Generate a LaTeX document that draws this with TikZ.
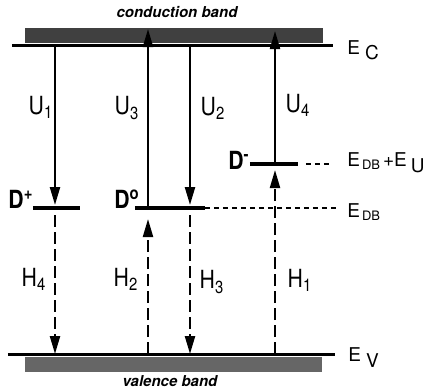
\documentclass[tikz,border=0pt]{standalone}
\usepackage{fontspec}
\setmainfont{TeX Gyre Heros}
\newfontfamily\narrowfont[FakeStretch=0.85]{TeX Gyre Heros}
\usetikzlibrary{arrows.meta}

\begin{document}
\begin{tikzpicture}[x=0.5pt, y=-0.5pt,
        band/.style={fill=black!75, draw=none},
        edge/.style={line width=1.5pt},
        level/.style={line width=1.7pt},
        guide/.style={line width=0.8pt, dash pattern=on 2.5pt off 2pt},
        trans/.style={line width=1.1pt, -{Triangle[length=9pt, width=5pt]}},
        hole/.style={trans, dash pattern=on 6pt off 2.5pt},
        lab/.style={font=\narrowfont\fontsize{12.5}{14}\selectfont, inner sep=0pt},
        dlab/.style={lab, font=\narrowfont\bfseries\fontsize{12.5}{14}\selectfont},
        elab/.style={font=\fontsize{9.5}{11}\selectfont, inner sep=0pt, anchor=west},
        blab/.style={font=\bfseries\itshape\fontsize{7.5}{9}\selectfont, inner sep=0pt}]

        \useasboundingbox (0,0) rectangle (446,388);

        % bands
        \fill[band] (25,28) rectangle (323,43);
        \fill[band, fill=black!60] (25,357) rectangle (322,372);
        \node (cb) [blab] at (177,12) {conduction band};
        \node (vb) [blab] at (170,381) {valence band};

        % band edges
        \coordinate (ecL) at (12,45);
        \coordinate (ecR) at (333,45);
        \coordinate (evL) at (8,354);
        \coordinate (evR) at (335,354);
        \draw [edge] (ecL) -- (ecR);
        \draw [edge] (evL) -- (evR);
        \node (ec) [elab] at (347,50) {E\hspace{2.5pt}\raisebox{-2.5pt}{C}};
        \node (ev) [elab] at (348,358) {E\hspace{2.5pt}\raisebox{-3pt}{V}};

        % transition columns
        \coordinate (c1) at (55,45);  \coordinate (v1) at (55,354);
        \coordinate (c2) at (148,45); \coordinate (v2) at (148,354);
        \coordinate (c3) at (190,45); \coordinate (v3) at (190,354);
        \coordinate (c4) at (275,45); \coordinate (v4) at (275,354);
        \coordinate (top2) at (148,29);
        \coordinate (top4) at (275,31);

        % defect levels
        \coordinate (dpL) at (33,208);  \coordinate (dpR) at (80,208);
        \coordinate (d0L) at (135,208); \coordinate (d0R) at (205,208);
        \coordinate (dmL) at (250,164); \coordinate (dmR) at (298,164);
        \coordinate (gdb) at (338,208);
        \coordinate (gmL) at (306,164); \coordinate (gmR) at (330,164);
        \draw [level] (dpL) -- (dpR);
        \draw [level] (d0L) -- (d0R);
        \draw [level] (dmL) -- (dmR);
        \draw [guide] (d0R) -- (gdb);
        \draw [guide] (gmL) -- (gmR);

        \node (dp) [dlab] at (21,199) {D\textsuperscript{+}};
        \node (d0) [dlab] at (127,199) {D\textsuperscript{o}};
        \node (dm) [dlab] at (239,160) {D\textsuperscript{-}};
        \node (edbu) [elab] at (347,163) {E\hspace{1pt}\raisebox{-1.5pt}{\fontsize{6.5}{7}\selectfont DB}\hspace{1.5pt}+E\hspace{2pt}\raisebox{-3pt}{U}};
        \node (edb) [elab] at (347,212) {E\hspace{1pt}\raisebox{-1.5pt}{\fontsize{6.5}{7}\selectfont DB}};

        % electron transitions
        \draw [trans, shorten >=1.5pt] (c1) -- (c1 |- dpL);
        \draw [trans] (c2 |- d0L) -- (top2);
        \draw [trans, shorten >=1.5pt] (c3) -- (c3 |- d0L);
        \draw [trans] (c4 |- dmL) -- (top4);
        \node (u1) [lab] at (41,107) {U\textsubscript{1}};
        \node (u3) [lab] at (127,108) {U\textsubscript{3}};
        \node (u2) [lab] at (213,108) {U\textsubscript{2}};
        \node (u4) [lab] at (298,105) {U\textsubscript{4}};

        % hole transitions
        \draw [hole, shorten <=3.5pt] (c1 |- dpL) -- (v1);
        \draw [hole, shorten >=5.5pt] (v2) -- (c2 |- d0L);
        \draw [hole, shorten <=3.5pt] (c3 |- d0L) -- (v3);
        \draw [hole, shorten >=3pt] (v4) -- (c4 |- dmL);
        \node (h4) [lab] at (34,279) {H\textsubscript{4}};
        \node (h2) [lab] at (126,279) {H\textsubscript{2}};
        \node (h3) [lab] at (212,282) {H\textsubscript{3}};
        \node (h1) [lab] at (300,280) {H\textsubscript{1}};
    \end{tikzpicture}
\end{document}
